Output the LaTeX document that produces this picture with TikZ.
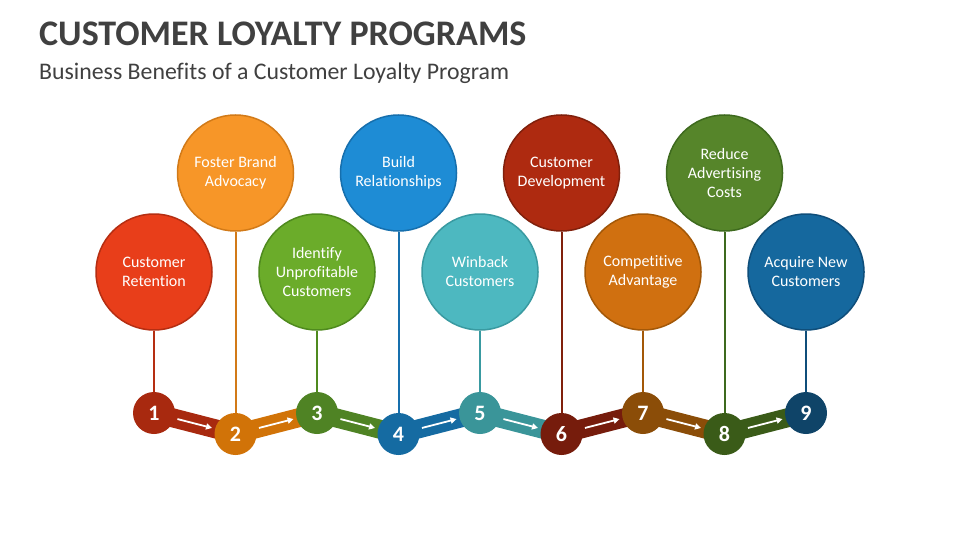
\documentclass[tikz,border=0pt]{standalone}
\usepackage{fontspec}
\setmainfont{Carlito}[Ligatures={NoCommon}]
\usetikzlibrary{arrows.meta}
\definecolor{titlegray}{HTML}{404040}
% big circle fills / borders
\definecolor{f1}{HTML}{E83E1A}\definecolor{d1}{HTML}{B52E12}
\definecolor{f2}{HTML}{F79628}\definecolor{d2}{HTML}{D27A18}
\definecolor{f3}{HTML}{6BAC2A}\definecolor{d3}{HTML}{4F8A1E}
\definecolor{f4}{HTML}{1E8CD5}\definecolor{d4}{HTML}{166FAD}
\definecolor{f5}{HTML}{4DB8C0}\definecolor{d5}{HTML}{399AA1}
\definecolor{f6}{HTML}{AE2A10}\definecolor{d6}{HTML}{80200C}
\definecolor{f7}{HTML}{D07010}\definecolor{d7}{HTML}{A35808}
\definecolor{f8}{HTML}{56852A}\definecolor{d8}{HTML}{3E6A1E}
\definecolor{f9}{HTML}{15689E}\definecolor{d9}{HTML}{0F4E7A}
% small circle / band colours
\definecolor{s1c}{HTML}{A8290F}
\definecolor{s2c}{HTML}{D17308}
\definecolor{s3c}{HTML}{4F8324}
\definecolor{s4c}{HTML}{156BA2}
\definecolor{s5c}{HTML}{3A9599}
\definecolor{s6c}{HTML}{761C0C}
\definecolor{s7c}{HTML}{8B4D08}
\definecolor{s8c}{HTML}{3A5B18}
\definecolor{s9c}{HTML}{0F4468}
\tikzset{
  bigc/.style={circle, minimum size=116pt, inner sep=0pt, line width=1.5pt,
    text=white, align=center, font=\fontsize{16}{19}\selectfont},
  smallc/.style={circle, minimum size=42pt, inner sep=0pt, text=white,
    font=\bfseries\fontsize{22}{24}\selectfont},
  stem/.style={line width=2pt},
  band/.style={line width=19pt},
  arr/.style={draw=white, line width=1.8pt, -{Triangle[length=6pt,width=6pt]},
    shorten <=3pt, shorten >=3pt},
}
\begin{document}
\begin{tikzpicture}[x=1pt,y=-1pt]
\useasboundingbox[fill=white] (0,0) rectangle (960,540);
\node[anchor=base west, inner sep=0pt, text=titlegray, font=\bfseries\fontsize{36}{40}\selectfont] (title) at (39,46) {CUSTOMER LOYALTY PROGRAMS};
\node[anchor=base west, inner sep=0pt, text=titlegray, font=\fontsize{23.8}{26}\selectfont] (sub) at (39,80) {Business Benefits of a Customer Loyalty Program};

% big circles
\node[bigc, fill=f1, draw=d1] (b1) at (154,272) {Customer\\Retention};
\node[bigc, fill=f2, draw=d2] (b2) at (235.5,173) {Foster Brand\\Advocacy};
\node[bigc, fill=f3, draw=d3] (b3) at (317,272) {Identify\\Unprofitable\\Customers};
\node[bigc, fill=f4, draw=d4] (b4) at (398.5,173) {Build\\Relationships};
\node[bigc, fill=f5, draw=d5] (b5) at (480,272) {Winback\\Customers};
\node[bigc, fill=f6, draw=d6] (b6) at (561.5,173) {Customer\\Development};
\node[bigc, fill=f7, draw=d7] (b7) at (643,272) {Competitive\\Advantage};
\node[bigc, fill=f8, draw=d8] (b8) at (724.5,173) {Reduce\\Advertising\\Costs};
\node[bigc, fill=f9, draw=d9] (b9) at (806,272) {Acquire New\\Customers};

% small circle positions (coordinates first so bands go beneath)
\coordinate (p1) at (154,413);
\coordinate (p2) at (235.5,434);
\coordinate (p3) at (317,413);
\coordinate (p4) at (398.5,434);
\coordinate (p5) at (480,413);
\coordinate (p6) at (561.5,434);
\coordinate (p7) at (643,413);
\coordinate (p8) at (724.5,434);
\coordinate (p9) at (806,413);

% stems
\draw[stem, d1] (b1.south) -- (p1);
\draw[stem, d2] (b2.south) -- (p2);
\draw[stem, d3] (b3.south) -- (p3);
\draw[stem, d4] (b4.south) -- (p4);
\draw[stem, d5] (b5.south) -- (p5);
\draw[stem, d6] (b6.south) -- (p6);
\draw[stem, d7] (b7.south) -- (p7);
\draw[stem, d8] (b8.south) -- (p8);
\draw[stem, d9] (b9.south) -- (p9);

% bands
\draw[band, s1c] (p1) -- (p2);
\draw[band, s2c] (p2) -- (p3);
\draw[band, s3c] (p3) -- (p4);
\draw[band, s4c] (p4) -- (p5);
\draw[band, s5c] (p5) -- (p6);
\draw[band, s6c] (p6) -- (p7);
\draw[band, s7c] (p7) -- (p8);
\draw[band, s8c] (p8) -- (p9);

% small circles
\node[smallc, fill=s1c] (s1) at (p1) {1};
\node[smallc, fill=s2c] (s2) at (p2) {2};
\node[smallc, fill=s3c] (s3) at (p3) {3};
\node[smallc, fill=s4c] (s4) at (p4) {4};
\node[smallc, fill=s5c] (s5) at (p5) {5};
\node[smallc, fill=s6c] (s6) at (p6) {6};
\node[smallc, fill=s7c] (s7) at (p7) {7};
\node[smallc, fill=s8c] (s8) at (p8) {8};
\node[smallc, fill=s9c] (s9) at (p9) {9};

% arrows
\draw[arr] (s1) -- (s2);
\draw[arr] (s2) -- (s3);
\draw[arr] (s3) -- (s4);
\draw[arr] (s4) -- (s5);
\draw[arr] (s5) -- (s6);
\draw[arr] (s6) -- (s7);
\draw[arr] (s7) -- (s8);
\draw[arr] (s8) -- (s9);
\end{tikzpicture}
\end{document}
